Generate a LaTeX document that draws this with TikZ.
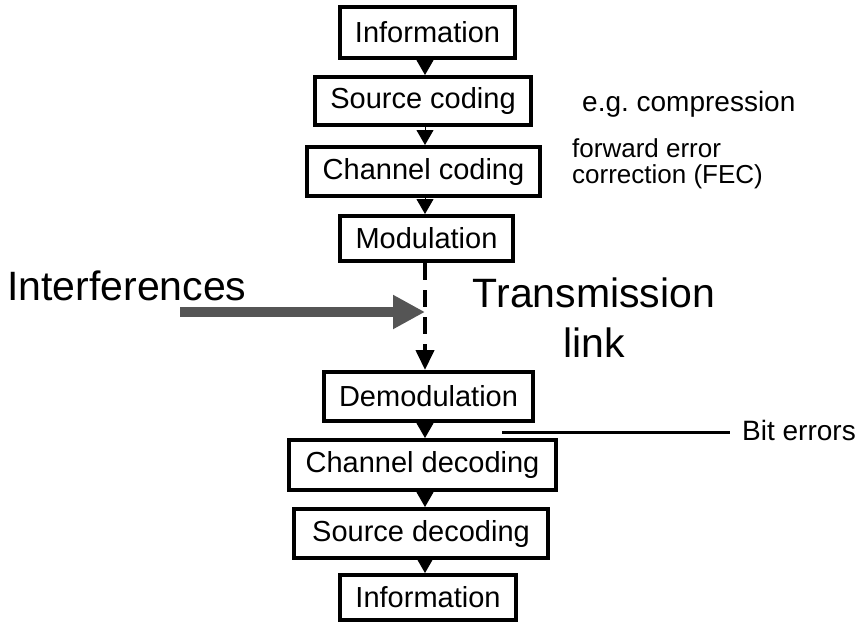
\documentclass[tikz,border=0pt]{standalone}
\usepackage{fontspec}
\setmainfont{Liberation Sans}
\usetikzlibrary{arrows.meta,calc}
\definecolor{intgray}{RGB}{85,85,85}
\frenchspacing
\tikzset{
  blockbox/.style={draw=black, line width=4pt, fill=white, inner sep=0pt,
    font=\fontsize{29}{35}\selectfont},
  flowarrow/.style={line width=1pt, -{Triangle[width=17pt,length=15pt]}},
  linkarrow/.style={line width=4pt, dash pattern=on 17pt off 10pt,
    -{Triangle[width=18pt,length=20pt]}},
  intarrow/.style={draw=intgray, line width=10pt,
    -{Triangle[width=32pt,length=32pt]}},
  bigtext/.style={font=\fontsize{41}{50}\selectfont, inner sep=0pt},
  midtext/.style={font=\fontsize{28}{34}\selectfont, inner sep=0pt},
  smalltext/.style={font=\fontsize{26}{26}\selectfont, inner sep=0pt, align=left}
}
\begin{document}
\begin{tikzpicture}[x=1pt,y=-1pt]
\useasboundingbox (0,0) rectangle (866,625);
\coordinate (axis) at (425,0);
\node[blockbox, minimum width=175pt, minimum height=51pt] (info1) at (427.5,32.5) {Information};
\node[blockbox, minimum width=216pt, minimum height=48pt] (src) at (423,101) {Source coding};
\node[blockbox, minimum width=233pt, minimum height=49pt] (chc) at (423.5,171.5) {Channel coding};
\node[blockbox, minimum width=173pt, minimum height=45pt] (mod) at (426.5,238.5) {Modulation};
\node[blockbox, minimum width=209pt, minimum height=49pt] (demod) at (428.5,396.5) {Demodulation};
\node[blockbox, minimum width=267pt, minimum height=50pt] (chdec) at (422.5,465) {Channel decoding};
\node[blockbox, minimum width=254pt, minimum height=49pt] (srcdec) at (421,533.5) {Source decoding};
\node[blockbox, minimum width=176pt, minimum height=45pt] (info2) at (428,597.5) {Information};

\draw[flowarrow] (info1.south -| axis) -- (src.north -| axis);
\draw[flowarrow] (src.south -| axis) -- (chc.north -| axis);
\draw[flowarrow] (chc.south -| axis) -- (mod.north -| axis);
\draw[linkarrow] (mod.south -| axis) -- (demod.north -| axis);
\draw[flowarrow] (demod.south -| axis) -- (chdec.north -| axis);
\draw[flowarrow] (chdec.south -| axis) -- (srcdec.north -| axis);
\draw[flowarrow] (srcdec.south -| axis) -- (info2.north -| axis);

\node[bigtext, anchor=base west] (interf) at (7,300) {Interferences};
\coordinate (istart) at (180,312);
\coordinate (ihit) at (axis |- istart);
\draw[intarrow] (istart) -- (ihit);

\node[bigtext, align=center] (tlink) at (594,318) {Transmission\\link};

\node[midtext, anchor=base west] (eg) at (582,111) {e.g. compression};
\node[smalltext, anchor=north west] (fec) at (572,138) {forward error\\correction (FEC)};

\node[midtext, anchor=base west] (biterr) at (742,440) {Bit errors};
\coordinate (bstart) at (502,432);
\coordinate (bend) at (730,432);
\draw[line width=3pt] (bstart) -- (bend);
\end{tikzpicture}
\end{document}
